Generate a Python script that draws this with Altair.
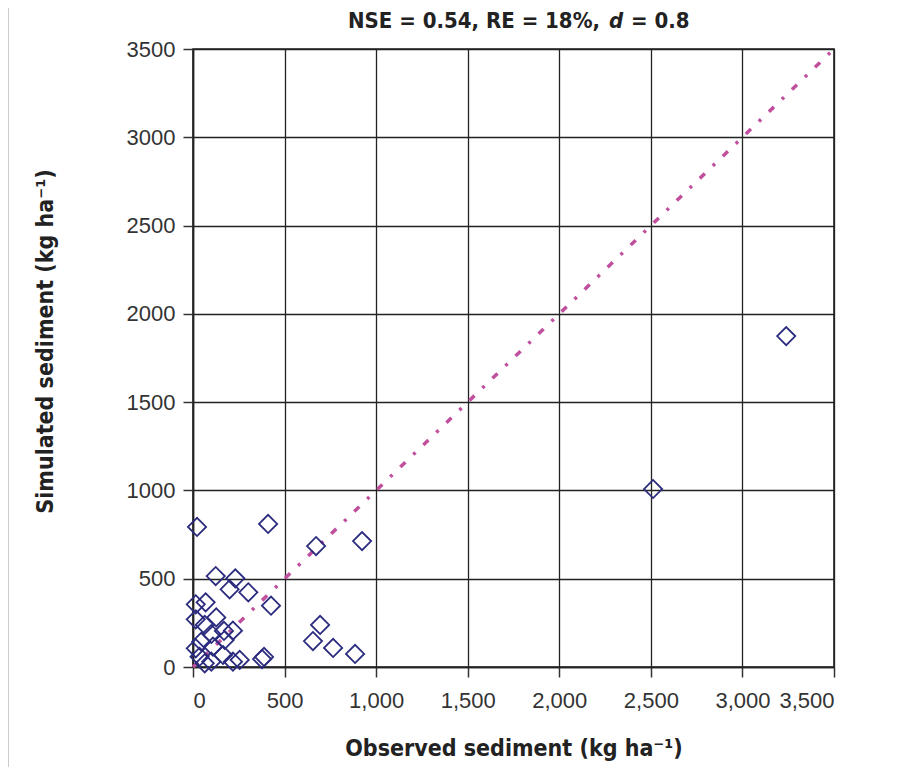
import altair as alt
import pandas as pd

# Observed vs simulated sediment (kg ha-1)
obs = [22, 410, 672, 923, 2512, 3239, 694, 655, 765, 885, 426, 377, 388,
       124, 231, 200, 302, 69, 15, 127, 15, 64, 169, 218, 100, 45, 173,
       15, 109, 164, 36, 100, 218, 255, 64]
sim = [793, 810, 685, 713, 1008, 1874, 238, 147, 108, 74, 347, 45, 57,
       515, 502, 440, 423, 366, 355, 281, 270, 238, 204, 206, 187, 143, 153,
       106, 115, 68, 58, 30, 30, 40, 21]

# 1:1 line
line_obs = [0, 3500]
line_sim = [0, 3500]

ticks = [0, 500, 1000, 1500, 2000, 2500, 3000, 3500]

title_a = "NSE = 0.54, RE = 18%,"
title_b = "d"
title_c = "= 0.8"
x_title = "Observed sediment (kg ha\u207b\u00b9)"
y_title = "Simulated sediment (kg ha\u207b\u00b9)"

pts = pd.DataFrame({"obs": obs, "sim": sim})
ln = pd.DataFrame({"obs": line_obs, "sim": line_sim})

TITLE_FONT = "'DejaVu Sans Condensed', Roboto, sans-serif"
LABEL_FONT = "Liberation Sans"

xscale = alt.Scale(domain=[0, 3500], nice=False, zero=False)
yscale = alt.Scale(domain=[0, 3500], nice=False, zero=False)

xaxis = alt.Axis(values=ticks, format=",d", title=x_title,
                 labelFont=LABEL_FONT, labelFontSize=22, labelColor="#333",
                 labelPadding=13, tickSize=10, tickColor="#333", tickWidth=1.5,
                 domainColor="#222", domainWidth=1.6,
                 gridColor="#222", gridWidth=1.3, grid=True,
                 titleFont=TITLE_FONT, titleFontSize=23, titleFontWeight="bold",
                 titleColor="#222", titleBaseline="alphabetic", titleY=88,
                 titleX=320.5, titleAlign="center")
yaxis = alt.Axis(values=ticks, format="d", title=y_title,
                 labelFont=LABEL_FONT, labelFontSize=22, labelColor="#333",
                 labelPadding=8, tickSize=10, tickColor="#333", tickWidth=1.5,
                 domainColor="#222", domainWidth=1.6,
                 gridColor="#222", gridWidth=1.3, grid=True,
                 titleFont=TITLE_FONT, titleFontSize=23, titleFontWeight="bold",
                 titleColor="#222", titleBaseline="alphabetic", titleX=-141,
                 titleY=292, titleAngle=-90, titleAlign="center")

line = alt.Chart(ln).mark_line(color="#c0509e", strokeWidth=3.5,
                               strokeDash=[7, 11, 3, 11]).encode(
    x=alt.X("obs:Q", scale=xscale, axis=xaxis),
    y=alt.Y("sim:Q", scale=yscale, axis=yaxis),
)

points = alt.Chart(pts).mark_point(shape="diamond", filled=False, size=330,
                                   strokeWidth=1.8, color="#2b2b7e",
                                   opacity=1).encode(
    x=alt.X("obs:Q", scale=xscale),
    y=alt.Y("sim:Q", scale=yscale),
)

t1 = alt.Chart(pd.DataFrame({"t": [title_a]})).mark_text(
    font=TITLE_FONT, fontSize=22, fontWeight="bold", color="#222",
    align="right", baseline="alphabetic").encode(
    x=alt.value(407), y=alt.value(-21), text="t:N")
t2 = alt.Chart(pd.DataFrame({"t": [title_b]})).mark_text(
    font=TITLE_FONT, fontSize=22, fontWeight="bold", fontStyle="italic",
    color="#222", align="left", baseline="alphabetic").encode(
    x=alt.value(416), y=alt.value(-21), text="t:N")
t3 = alt.Chart(pd.DataFrame({"t": [title_c]})).mark_text(
    font=TITLE_FONT, fontSize=22, fontWeight="bold", color="#222",
    align="left", baseline="alphabetic").encode(
    x=alt.value(438), y=alt.value(-21), text="t:N")

border = alt.Chart(pd.DataFrame({"a": [0]})).mark_rule(
    color="#999", strokeWidth=1).encode(
    x=alt.value(-185), y=alt.value(-49), y2=alt.value(732))

chart = alt.layer(line, points, t1, t2, t3, border).properties(
    width=641, height=618,
    autosize=alt.AutoSizeParams(type="none"),
    padding={"left": 185, "top": 41, "right": 70, "bottom": 100},
).configure_view(stroke="#222", strokeWidth=1.6)

chart.save("out.html", embed_options={"renderer": "svg", "actions": False})
